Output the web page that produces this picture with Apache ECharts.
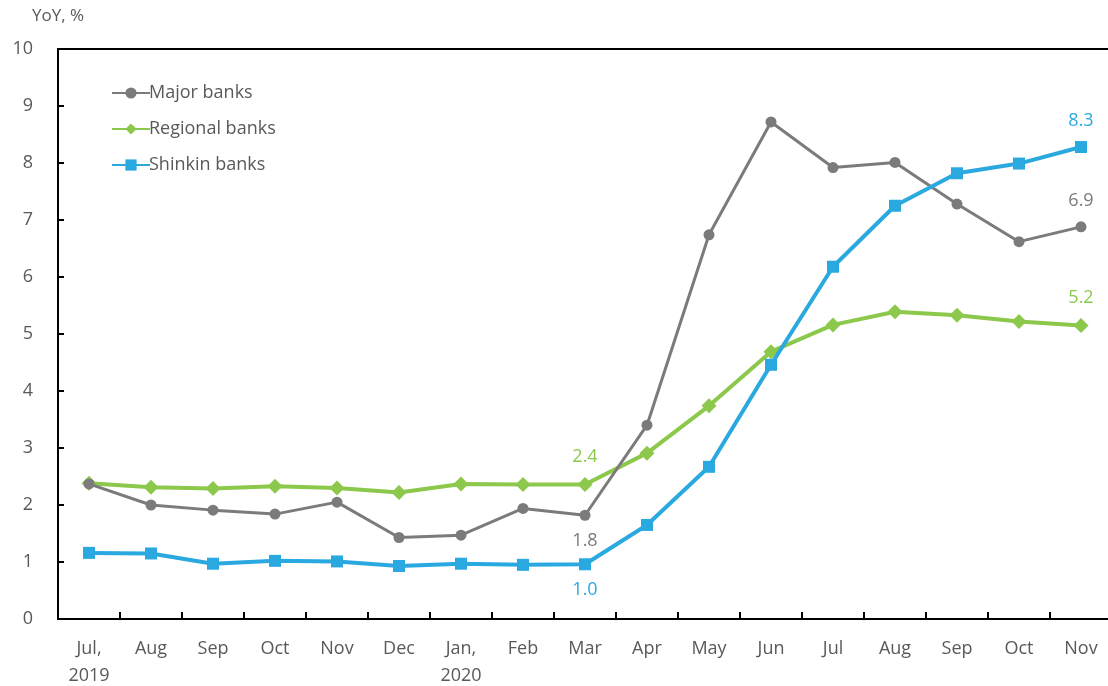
<!DOCTYPE html>
<html>
<head>
<meta charset="utf-8">
<script src="https://cdn.jsdelivr.net/npm/echarts@6/dist/echarts.min.js"></script>
<style>
  html, body { margin: 0; padding: 0; background: #fff; }
  #chart { width: 1108px; height: 686px; }
</style>
</head>
<body>
<div id="chart"></div>
<script>
// Month categories, Jul 2019 to Nov 2020
const months = ['Jul,\n2019', 'Aug', 'Sep', 'Oct', 'Nov', 'Dec', 'Jan,\n2020', 'Feb', 'Mar',
                'Apr', 'May', 'Jun', 'Jul', 'Aug', 'Sep', 'Oct', 'Nov'];

// Loan growth, YoY %
const majorBanks    = [2.37, 2.00, 1.91, 1.84, 2.05, 1.43, 1.47, 1.94, 1.82, 3.40, 6.74, 8.72, 7.92, 8.01, 7.28, 6.62, 6.88];
const regionalBanks = [2.38, 2.31, 2.29, 2.33, 2.30, 2.22, 2.37, 2.36, 2.36, 2.91, 3.74, 4.69, 5.16, 5.39, 5.33, 5.22, 5.15];
const shinkinBanks  = [1.16, 1.15, 0.97, 1.02, 1.01, 0.93, 0.97, 0.95, 0.96, 1.65, 2.67, 4.46, 6.18, 7.25, 7.82, 7.99, 8.28];

// Value axis ticks
const yTicks = [0, 1, 2, 3, 4, 5, 6, 7, 8, 9, 10];

const GRAY = '#7b7b7b', GREEN = '#8cc84b', BLUE = '#2aa9e0', TEXT = '#595959';
const FONT = 'Open Sans';

// Attach a value label (one decimal) to chosen points
function withLabels(values, labelled, color) {
  return values.map((v, i) => {
    const pos = labelled[i];
    if (!pos) return v;
    return {
      value: v,
      label: {
        show: true, position: pos, distance: pos === 'bottom' ? 11 : 11,
        color: color, fontFamily: FONT, fontSize: 18,
        formatter: p => p.value.toFixed(1)
      }
    };
  });
}

const chart = echarts.init(document.getElementById('chart'));
chart.setOption({
  animation: false,
  backgroundColor: '#fff',
  textStyle: { fontFamily: FONT },
  grid: {
    left: 58, top: 49, height: 570, width: 1054,
    outerBoundsMode: 'none', containLabel: false,
    show: true, borderColor: '#000', borderWidth: 2, backgroundColor: 'transparent'
  },
  graphic: [{
    type: 'text', left: 32, top: 8,
    style: { text: 'YoY, %', fill: TEXT, font: '17px "' + FONT + '"' }
  }],
  legend: {
    left: 106, top: 79, orient: 'vertical', itemGap: 18,
    itemWidth: 38, itemHeight: 14,
    textStyle: { color: TEXT, fontSize: 18, fontFamily: FONT, padding: [0, 0, 0, -6] },
    data: ['Major banks', 'Regional banks', 'Shinkin banks']
  },
  xAxis: {
    type: 'category', data: months, boundaryGap: true,
    axisLine: { show: true, lineStyle: { color: '#000', width: 2 } },
    axisTick: { show: true, inside: true, length: 7, lineStyle: { color: '#000', width: 2 } },
    axisLabel: { color: TEXT, fontSize: 18, fontFamily: FONT, margin: 16, lineHeight: 27, interval: 0 }
  },
  yAxis: {
    type: 'value', min: yTicks[0], max: yTicks[yTicks.length - 1], interval: 1,
    splitLine: { show: false },
    axisLine: { show: true, lineStyle: { color: '#000', width: 2 } },
    axisTick: { show: true, inside: true, length: 6, lineStyle: { color: '#000', width: 2 } },
    axisLabel: { color: TEXT, fontSize: 18, fontFamily: FONT, margin: 25 }
  },
  series: [
    {
      name: 'Major banks', type: 'line', z: 3,
      data: withLabels(majorBanks, { 8: 'bottom', 16: 'top' }, GRAY),
      symbol: 'circle', symbolSize: 11,
      lineStyle: { color: GRAY, width: 3 },
      itemStyle: { color: GRAY }
    },
    {
      name: 'Regional banks', type: 'line', z: 2,
      data: withLabels(regionalBanks, { 8: 'top', 16: 'top' }, GREEN),
      symbol: 'diamond', symbolSize: 15,
      lineStyle: { color: GREEN, width: 4 },
      itemStyle: { color: GREEN }
    },
    {
      name: 'Shinkin banks', type: 'line', z: 4,
      data: withLabels(shinkinBanks, { 8: 'bottom', 16: 'top' }, BLUE),
      symbol: 'rect', symbolSize: 12,
      lineStyle: { color: BLUE, width: 4 },
      itemStyle: { color: BLUE }
    }
  ]
});
</script>
</body>
</html>
